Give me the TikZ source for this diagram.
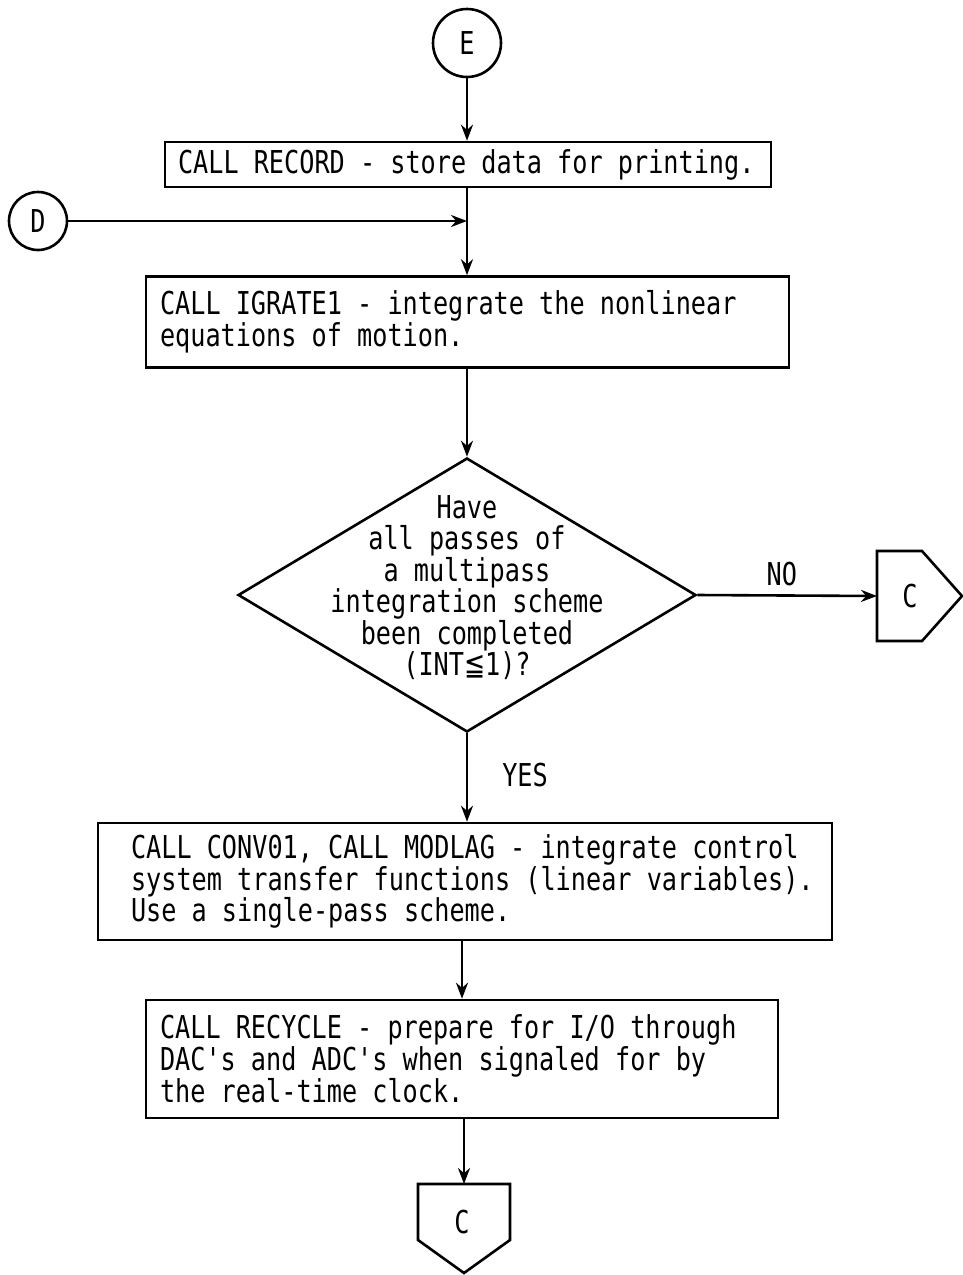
\documentclass[tikz,border=0pt]{standalone}
\usepackage{fontspec}
\usetikzlibrary{arrows.meta,shapes.geometric}
\newfontfamily\tw[FakeStretch=0.8]{DejaVu Sans Mono}
\newfontfamily\symf[FakeStretch=0.8]{DejaVu Sans}
\newcommand\twfont{\tw\fontsize{31.5}{30.4}\selectfont}
\newcommand\twspace{\spaceskip=15.17pt plus 0pt minus 0pt\relax\xspaceskip=15.17pt plus 0pt minus 0pt\relax}
\begin{document}
\begin{tikzpicture}[x=1pt,y=-1pt,
  line width=2.6pt,
  every node/.style={font=\twfont, execute at begin node=\twspace},
  box/.style={draw, rectangle, align=left, inner ysep=0pt},
  conn/.style={circle, draw, minimum size=#1, inner sep=0pt},
  flow/.style={-{Stealth[length=16pt,width=12pt]}},
  plain/.style={inner sep=0pt}]
\useasboundingbox (0,0) rectangle (962,1275);

% connectors E and D
\node (E) [conn=68pt] at (467,43) {E};
\node (D) [conn=58pt] at (38,221) {D};

% boxes
\node (b1) [box, minimum width=606pt, minimum height=45pt, inner xsep=13pt, text width=580pt] at (468,164.5)
  {CALL RECORD - store data for printing.};
\node (b2) [box, minimum width=643pt, minimum height=91pt, inner xsep=14pt, text width=615pt] at (467.5,322)
  {CALL IGRATE1 - integrate the nonlinear\\equations of motion.};
\node (dia) [diamond, draw, minimum width=458pt, minimum height=274pt, inner sep=0pt] at (467,595) {};
\node (q) [plain, align=center] at (467,588)
  {Have\\all passes of\\a multipass\\integration scheme\\been completed\\(INT{\symf ≦}1)?};
\node (b3) [box, minimum width=734pt, minimum height=117pt, inner xsep=33pt, text width=668pt] at (465,881.5)
  {\mbox{CALL CONV01, CALL MODLAG - integrate control}\\\mbox{system transfer functions (linear variables).}\\\mbox{Use a single-pass scheme.}};
\node (b4) [box, minimum width=632pt, minimum height=118pt, inner xsep=14pt, text width=604pt] at (462,1059)
  {CALL RECYCLE - prepare for I/O through\\DAC's and ADC's when signaled for by\\the real-time clock.};

% off-page connectors C
\draw (877,551) -- (922,551) -- (962,596) -- (922,641) -- (877,641) -- cycle;
\node (c1) [plain] at (910,596) {C};
\coordinate (c1in) at (877,596);
\draw (418,1184) -- (510,1184) -- (510,1240) -- (464,1273) -- (418,1240) -- cycle;
\node (c2) [plain] at (462,1222) {C};
\coordinate (c2in) at (464,1184);

% junction for D
\coordinate (jD) at (467,221);

% flow lines
\draw[flow] (E.south) -- (b1.north -| E.south);
\draw (b1.south -| E.south) -- (jD);
\draw[flow] (jD) -- (b2.north -| jD);
\draw[flow] (D.east) -- (jD);
\draw[flow] (b2.south -| dia.north) -- (dia.north);
\draw[flow] (dia.east) -- (c1in) node[plain, pos=0.47, above=8pt] (no) {NO};
\draw[flow] (dia.south) -- (b3.north -| dia.south) node[plain, pos=0.47, right=34pt] (yes) {YES};
\draw[flow] (b3.south -| b4.north) -- (b4.north);
\draw[flow] (b4.south -| c2in) -- (c2in);
\end{tikzpicture}
\end{document}
